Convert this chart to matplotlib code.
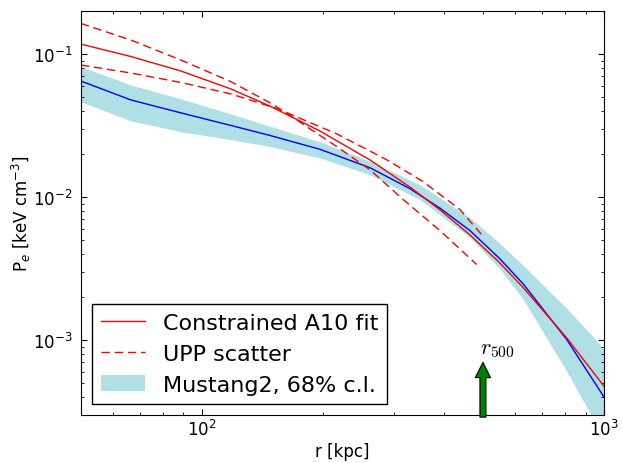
import matplotlib
matplotlib.use("Agg")
import matplotlib.pyplot as plt

# radii [kpc] and pressure values [keV cm^-3]
r_fit = [50, 66.6, 88.7, 118.1, 147.6, 196.6, 261.8, 329.2, 390.8, 464.2, 551.3, 629.9, 807.5, 1000]
p_fit = [0.1174, 0.0961, 0.0761, 0.0570, 0.0433, 0.02897, 0.01819, 0.01176, 0.00816, 0.00544,
         0.00346, 0.00233, 0.001039, 0.000477]

# UPP scatter (two dashed curves)
r_upp_a = [50, 66.6, 88.7, 118.1, 151, 216.3, 261.8, 316.8, 390.8, 482.4]
p_upp_a = [0.1637, 0.1252, 0.0908, 0.0641, 0.0441, 0.0226, 0.01555, 0.00961, 0.00584, 0.00338]
r_upp_b = [50, 66.6, 88.7, 118.1, 154.5, 216.3, 288.0, 355.2, 438.3, 501]
p_upp_b = [0.0838, 0.0737, 0.0633, 0.0526, 0.0414, 0.0277, 0.01826, 0.01282, 0.00818, 0.00530]

# Mustang2 best fit
r_m2 = [50, 66.6, 88.7, 118.1, 147.6, 196.6, 261.8, 329.2, 390.8, 464.2, 551.3, 629.9, 807.5, 1000]
p_m2 = [0.0648, 0.0478, 0.0388, 0.0317, 0.0270, 0.0216, 0.01606, 0.01146, 0.00838, 0.00584,
        0.00370, 0.00247, 0.001013, 0.000401]

# Mustang2 68% band
r_band = [50, 66.6, 88.7, 118.1, 147.6, 196.6, 261.8, 348.5, 464.2, 551.3, 629.9, 807.5, 923, 1000]
p_band_hi = [0.0816, 0.0608, 0.0486, 0.0382, 0.0313, 0.02436, 0.01782, 0.01222, 0.00720, 0.00474,
             0.00333, 0.00167, 0.001115, 0.000866]
p_band_lo = [0.0465, 0.0341, 0.0287, 0.0252, 0.0226, 0.0188, 0.01435, 0.00961, 0.00522, 0.00315,
             0.00193, 0.000608, 0.00031, 0.000201]

r500 = 500

plt.rcParams['font.family'] = ['DejaVu Sans']
plt.rcParams['xtick.direction'] = 'in'
plt.rcParams['ytick.direction'] = 'in'
plt.rcParams['xtick.top'] = True
plt.rcParams['ytick.right'] = True
plt.rcParams['xtick.major.size'] = 4
plt.rcParams['ytick.major.size'] = 4
plt.rcParams['xtick.minor.size'] = 2
plt.rcParams['ytick.minor.size'] = 2
plt.rcParams['xtick.major.pad'] = 3
plt.rcParams['ytick.major.pad'] = 6

fig = plt.figure(figsize=(6.22, 4.64), dpi=100)
ax = fig.add_axes([0.130, 0.1034, 0.841, 0.8707])

ax.fill_between(r_band, p_band_lo, p_band_hi, color='powderblue', lw=0, label='Mustang2, 68% c.l.')
ax.plot(r_m2, p_m2, color='b', lw=1)
ax.plot(r_fit, p_fit, color='r', lw=1, label='Constrained A10 fit')
ax.plot(r_upp_a, p_upp_a, color='r', lw=1, ls=(0, (6, 3.5)), label='UPP scatter')
ax.plot(r_upp_b, p_upp_b, color='r', lw=1, ls=(0, (6, 3.5)))

# r500 marker
ax.annotate('', xy=(r500, 7.0e-4), xytext=(r500, 2.9e-4),
            arrowprops=dict(facecolor='green', edgecolor='black', lw=0.8,
                            width=4.3, headwidth=11, headlength=11, shrink=0))
ax.text(491, 8.7e-4, r'$r_{500}$', ha='left', va='center', fontsize=16, math_fontfamily='cm')

ax.set_xscale('log')
ax.set_yscale('log')
ax.set_xlim(50, 1000)
ax.set_ylim(3e-4, 0.2)
ax.tick_params(labelsize=12)
ax.set_xlabel('r [kpc]', fontsize=12, labelpad=2)
ax.set_ylabel(r'P$_e$ [keV cm$^{-3}$]', fontsize=12, labelpad=0)

h, l = ax.get_legend_handles_labels()
order = [1, 2, 0]
ax.legend([h[i] for i in order], [l[i] for i in order], loc='lower left',
          fontsize=16, fancybox=False, framealpha=1, edgecolor='black')

fig.savefig('out.png', dpi=100)
